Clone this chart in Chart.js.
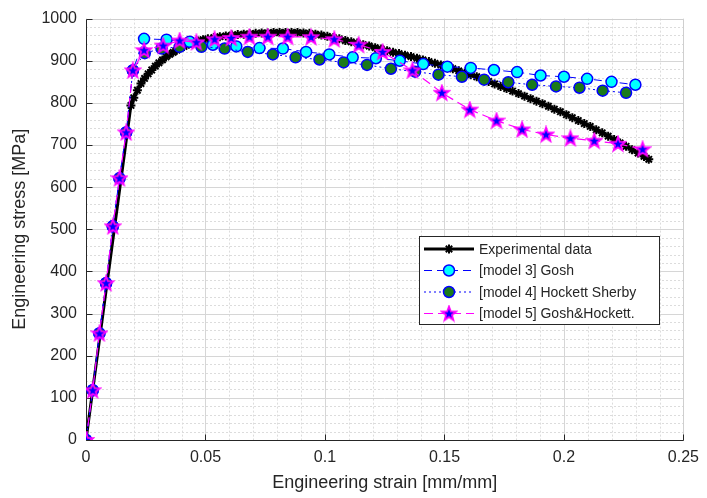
<!DOCTYPE html>
<html>
<head>
<meta charset="utf-8">
<script src="https://cdn.jsdelivr.net/npm/chart.js@4.4.0/dist/chart.umd.min.js"></script>
<style>
html, body { margin: 0; padding: 0; background: #fff; }
</style>
</head>
<body>
<canvas id="myChart" width="707" height="498"></canvas>
<script>
// values (strain in mm/mm, stress in MPa)
const expStrain = [0, 0.0188, 0.0200, 0.0215, 0.0230, 0.0245, 0.0260, 0.0275, 0.0290, 0.0305, 0.0320, 0.0335, 0.0350, 0.0365, 0.0380, 0.0395, 0.0410, 0.0430, 0.0450, 0.0470, 0.0490, 0.0510, 0.0535, 0.0560, 0.0585, 0.0610, 0.0635, 0.0660, 0.0685, 0.0710, 0.0735, 0.0760, 0.0785, 0.0810, 0.0835, 0.0860, 0.0885, 0.0910, 0.0935, 0.0960, 0.0985, 0.1010, 0.1035, 0.1060, 0.1085, 0.1110, 0.1135, 0.1160, 0.1185, 0.1210, 0.1235, 0.1260, 0.1285, 0.1310, 0.1335, 0.1360, 0.1385, 0.1410, 0.1435, 0.1460, 0.1485, 0.1510, 0.1535, 0.1560, 0.1585, 0.1610, 0.1635, 0.1660, 0.1685, 0.1710, 0.1735, 0.1760, 0.1785, 0.1810, 0.1835, 0.1860, 0.1885, 0.1910, 0.1935, 0.1960, 0.1985, 0.2010, 0.2035, 0.2060, 0.2085, 0.2110, 0.2135, 0.2160, 0.2185, 0.2210, 0.2235, 0.2260, 0.2285, 0.2310, 0.2335, 0.2355];
const expStress = [0, 794, 812, 830, 846, 858, 869, 878, 887, 895, 902, 909, 915, 920, 925, 930, 934, 939, 943, 947, 950, 952, 955, 957, 959, 961, 962, 963, 964, 965, 966, 966, 967, 967, 967, 967, 967, 966, 965, 963, 961, 958, 955, 952, 948, 945, 942, 938, 935, 931, 928, 924, 920, 917, 913, 910, 906, 902, 898, 894, 890, 885, 881, 876, 871, 867, 862, 856, 851, 845, 839, 834, 828, 822, 816, 810, 804, 798, 792, 785, 779, 772, 765, 758, 751, 744, 736, 729, 721, 713, 705, 697, 689, 681, 673, 666];

// elastic part shared by the three models
const elasticStrain = [0, 0.0028, 0.0056, 0.0084, 0.0112, 0.0140, 0.0168, 0.0196];
const elasticStress = [0, 118, 253, 372, 507, 621, 730, 877];

const m3Strain = [0.0243, 0.0337, 0.0434, 0.0531, 0.0629, 0.0726, 0.0824, 0.0921, 0.1018, 0.1116, 0.1213, 0.1313, 0.1411, 0.1512, 0.1610, 0.1707, 0.1804, 0.1902, 0.2000, 0.2097, 0.2199, 0.2299];
const m3Stress = [952, 950, 945, 938, 934, 930, 929, 921, 915, 908, 906, 900, 892, 886, 883, 878, 873, 865, 862, 857, 850, 843];

const m4Strain = [0.0246, 0.0316, 0.0392, 0.0483, 0.0580, 0.0677, 0.0782, 0.0877, 0.0977, 0.1078, 0.1176, 0.1276, 0.1377, 0.1475, 0.1573, 0.1666, 0.1767, 0.1867, 0.1967, 0.2065, 0.2162, 0.2260];
const m4Stress = [918, 929, 933, 933, 929, 921, 915, 908, 903, 896, 890, 881, 874, 867, 862, 855, 849, 843, 839, 836, 829, 824];

const m5Strain = [0.0243, 0.0323, 0.0392, 0.0462, 0.0538, 0.0608, 0.0684, 0.0761, 0.0844, 0.0942, 0.1039, 0.1141, 0.1241, 0.1366, 0.1489, 0.1606, 0.1718, 0.1825, 0.1925, 0.2027, 0.2127, 0.2226, 0.2329];
const m5Stress = [925, 936, 948, 944, 951, 954, 957, 957, 957, 956, 951, 938, 921, 877, 824, 784, 758, 737, 725, 716, 710, 703, 690];

const seriesNames = ['Experimental data', '[model 3] Gosh', '[model 4] Hockett Sherby', '[model 5] Gosh&Hockett.'];
const xTicks = [0, 0.05, 0.1, 0.15, 0.2, 0.25];
const yTicks = [0, 100, 200, 300, 400, 500, 600, 700, 800, 900, 1000];

const textColor = '#262626';
Chart.defaults.font.family = '"Liberation Sans", Arial, sans-serif';

const toXY = (xs, ys) => xs.map((x, i) => ({ x: x, y: ys[i] }));

// pentagram marker (magenta edge, blue face)
function makeStar() {
    const c = document.createElement('canvas');
    c.width = 18; c.height = 18;
    const g = c.getContext('2d');
    g.beginPath();
    for (let i = 0; i < 10; i++) {
        const r = i % 2 === 0 ? 7.5 : 3.1;
        const a = -Math.PI / 2 + i * Math.PI / 5;
        const px = 9 + r * Math.cos(a), py = 9.5 + r * Math.sin(a);
        if (i === 0) g.moveTo(px, py); else g.lineTo(px, py);
    }
    g.closePath();
    g.fillStyle = '#0000ff';
    g.fill();
    g.lineWidth = 1.8;
    g.strokeStyle = '#ff00ff';
    g.stroke();
    return c;
}
const starImg = makeStar();

const datasets = [
    {
        label: seriesNames[0],
        data: toXY(expStrain, expStress),
        borderColor: '#000000',
        borderWidth: 3,
        pointStyle: 'star',
        pointRadius: 4.5,
        pointBorderWidth: 2,
        pointBorderColor: '#000000',
        pointBackgroundColor: '#000000',
        order: 4
    },
    {
        label: seriesNames[1],
        data: toXY(elasticStrain.concat(m3Strain), elasticStress.concat(m3Stress)),
        borderColor: '#0000ff',
        borderWidth: 1,
        borderDash: [8, 5],
        pointStyle: 'circle',
        pointRadius: 5.5,
        pointBorderWidth: 1.5,
        pointBorderColor: '#0000ff',
        pointBackgroundColor: '#00ffff',
        order: 3
    },
    {
        label: seriesNames[2],
        data: toXY(elasticStrain.concat(m4Strain), elasticStress.concat(m4Stress)),
        borderColor: '#0000ff',
        borderWidth: 1,
        borderDash: [2, 3],
        pointStyle: 'circle',
        pointRadius: 5.5,
        pointBorderWidth: 1.5,
        pointBorderColor: '#0000ff',
        pointBackgroundColor: '#1a7a1a',
        order: 2
    },
    {
        label: seriesNames[3],
        data: toXY(elasticStrain.concat(m5Strain), elasticStress.concat(m5Stress)),
        borderColor: '#ff00ff',
        borderWidth: 1.2,
        borderDash: [9, 5],
        pointStyle: starImg,
        order: 1
    }
];

// minor dotted grid, major grid, box and inward ticks like a matlab axes
const matlabAxes = {
    id: 'matlabAxes',
    beforeDatasetsDraw(chart) {
        const { ctx, chartArea: a, scales: { x, y } } = chart;
        const px = v => Math.round(x.getPixelForValue(v)) + 0.5;
        const py = v => Math.round(y.getPixelForValue(v)) + 0.5;
        ctx.save();
        ctx.lineWidth = 1;
        ctx.strokeStyle = '#dcdcdc';
        ctx.setLineDash([2, 2]);
        for (let i = 1; i < 25; i++) {
            if (i % 5 === 0) continue;
            const xp = px(i * 0.01);
            ctx.beginPath(); ctx.moveTo(xp, a.top); ctx.lineTo(xp, a.bottom); ctx.stroke();
        }
        for (let i = 1; i < 50; i++) {
            if (i % 5 === 0) continue;
            const yp = py(i * 20);
            ctx.beginPath(); ctx.moveTo(a.left, yp); ctx.lineTo(a.right, yp); ctx.stroke();
        }
        ctx.setLineDash([]);
        ctx.strokeStyle = '#d6d6d6';
        xTicks.forEach(v => {
            const xp = px(v);
            ctx.beginPath(); ctx.moveTo(xp, a.top); ctx.lineTo(xp, a.bottom); ctx.stroke();
        });
        yTicks.forEach(v => {
            const yp = py(v);
            ctx.beginPath(); ctx.moveTo(a.left, yp); ctx.lineTo(a.right, yp); ctx.stroke();
        });
        const L = px(0), R = px(0.25), T = py(1000), B = py(0);
        ctx.strokeStyle = '#cfcfcf';
        ctx.beginPath(); ctx.moveTo(L, T); ctx.lineTo(R, T); ctx.lineTo(R, B); ctx.stroke();
        ctx.strokeStyle = textColor;
        ctx.beginPath(); ctx.moveTo(L, T); ctx.lineTo(L, B); ctx.lineTo(R, B); ctx.stroke();
        xTicks.forEach(v => {
            const xp = px(v);
            ctx.beginPath(); ctx.moveTo(xp, B); ctx.lineTo(xp, B - 6); ctx.stroke();
        });
        yTicks.forEach(v => {
            const yp = py(v);
            ctx.beginPath(); ctx.moveTo(L, yp); ctx.lineTo(L + 6, yp); ctx.stroke();
        });
        ctx.restore();
    },
    afterDraw(chart) {
        const ctx = chart.ctx;
        const bx = 419.5, by = 236.5, bw = 240, bh = 88;
        ctx.save();
        ctx.fillStyle = '#ffffff';
        ctx.fillRect(bx, by, bw, bh);
        ctx.strokeStyle = textColor;
        ctx.lineWidth = 1;
        ctx.strokeRect(bx, by, bw, bh);
        const rows = [249, 270.5, 292, 313.5];
        chart.data.datasets.forEach((ds, i) => {
            const yy = rows[i];
            ctx.save();
            ctx.strokeStyle = ds.borderColor;
            ctx.lineWidth = ds.borderWidth;
            ctx.setLineDash(ds.borderDash || []);
            ctx.beginPath(); ctx.moveTo(424, yy); ctx.lineTo(474, yy); ctx.stroke();
            ctx.setLineDash([]);
            ctx.fillStyle = ds.pointBackgroundColor || '#000';
            ctx.strokeStyle = ds.pointBorderColor || '#000';
            ctx.lineWidth = ds.pointBorderWidth || 1;
            Chart.helpers.drawPoint(ctx, {
                pointStyle: ds.pointStyle,
                radius: ds.pointRadius || 5,
                rotation: 0,
                borderWidth: ds.pointBorderWidth || 1
            }, 449, yy);
            ctx.restore();
            ctx.fillStyle = textColor;
            ctx.font = '14px "Liberation Sans", Arial, sans-serif';
            ctx.textBaseline = 'middle';
            ctx.textAlign = 'left';
            ctx.fillText(ds.label, 479, yy + 1);
        });
        ctx.restore();
    }
};

new Chart(document.getElementById('myChart').getContext('2d'), {
    type: 'scatter',
    data: { datasets: datasets },
    options: {
        responsive: false,
        animation: false,
        devicePixelRatio: 1,
        layout: { padding: { left: 0, right: 22, top: 18, bottom: 0 } },
        elements: { line: { tension: 0 } },
        datasets: { scatter: { showLine: true } },
        plugins: { legend: { display: false }, tooltip: { enabled: false } },
        scales: {
            x: {
                type: 'linear',
                min: 0,
                max: 0.25,
                afterBuildTicks: s => { s.ticks = xTicks.map(v => ({ value: v })); },
                afterFit: s => { s.height = 58; },
                ticks: {
                    color: textColor,
                    font: { size: 16 },
                    padding: 8,
                    maxRotation: 0,
                    autoSkip: false,
                    callback: v => String(+v.toFixed(2))
                },
                grid: { display: false, drawTicks: false },
                border: { display: false },
                title: {
                    display: true,
                    text: 'Engineering strain [mm/mm]',
                    color: textColor,
                    font: { size: 18 },
                    padding: { top: 0, bottom: 4 }
                }
            },
            y: {
                type: 'linear',
                min: 0,
                max: 1000,
                afterBuildTicks: s => { s.ticks = yTicks.map(v => ({ value: v })); },
                afterFit: s => { s.width = 86; },
                ticks: {
                    color: textColor,
                    font: { size: 16 },
                    padding: 9,
                    autoSkip: false,
                    callback: v => String(v)
                },
                grid: { display: false, drawTicks: false },
                border: { display: false },
                title: {
                    display: true,
                    text: 'Engineering stress [MPa]',
                    color: textColor,
                    font: { size: 18 },
                    padding: { top: 9, bottom: 0 }
                }
            }
        }
    },
    plugins: [matlabAxes]
});
</script>
</body>
</html>
